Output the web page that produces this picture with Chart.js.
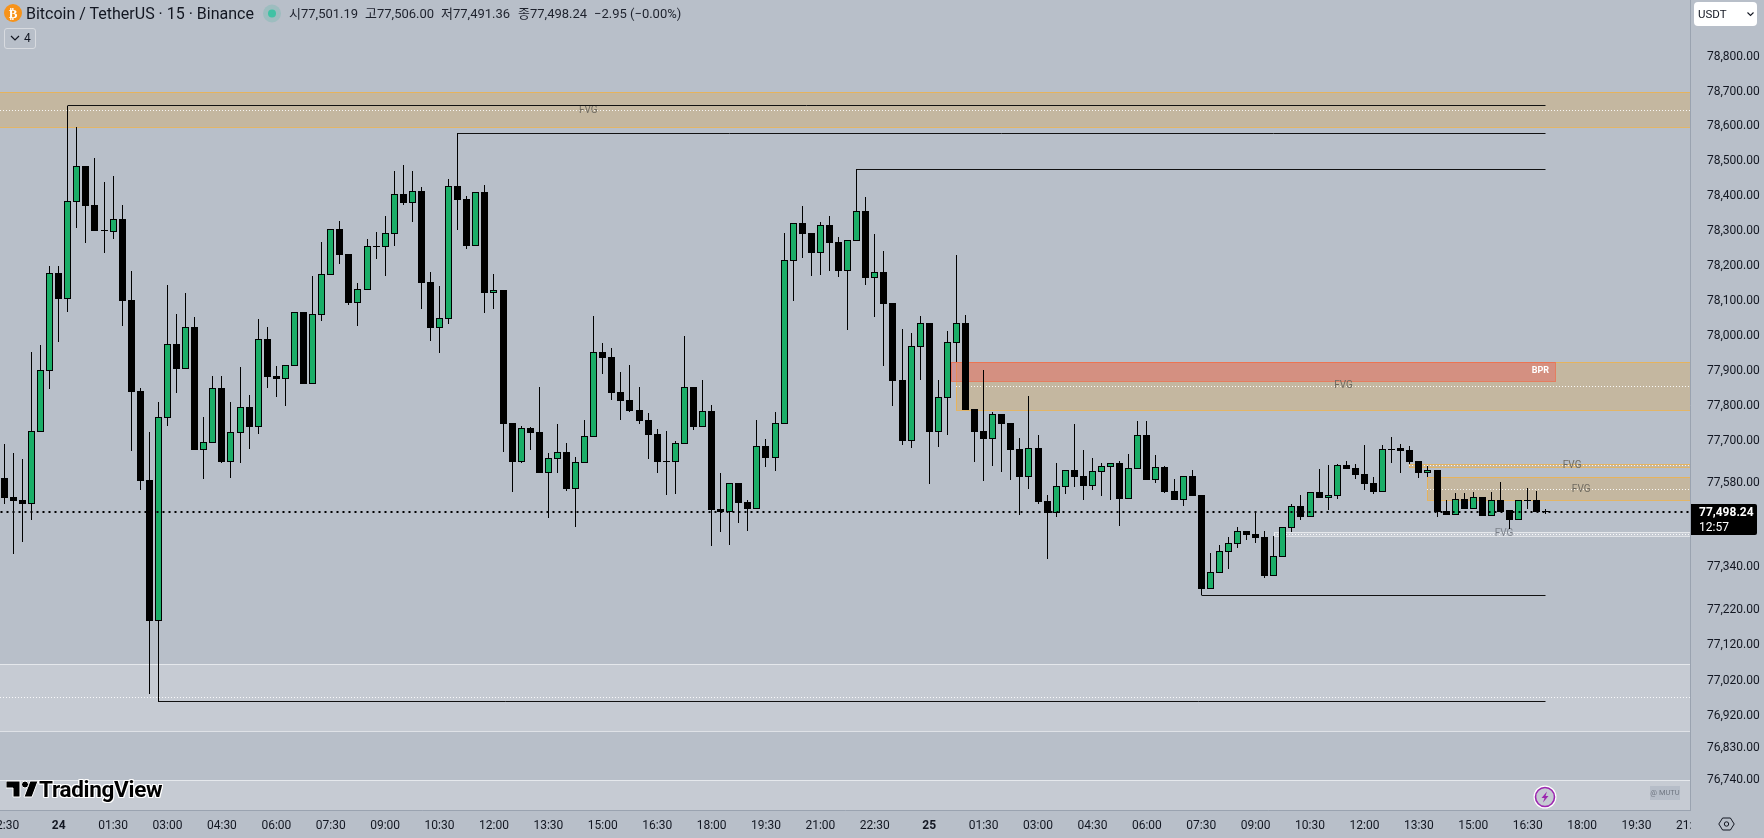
<!DOCTYPE html>
<html lang="ko">
<head>
  <meta charset="UTF-8" />
  <title>Bitcoin / TetherUS 15m</title>
  <style>
html, body { margin: 0; padding: 0; }
body {
    width: 1764px;
    height: 838px;
    overflow: hidden;
    position: relative;
    background: #b8bfc9;
    font-family: Roboto, 'Noto Sans CJK KR', sans-serif;
    color: #131722;
}
canvas { position: absolute; left: 0; top: 0; }
.abs { position: absolute; white-space: nowrap; }
.ohlc { top: 5px; font-size: 13px; line-height: 18px; color: #1e222d; }
#title { left: 26px; top: 3px; font-size: 16px; line-height: 21px; color: #131722; }
#btn4 { left: 4px; top: 28px; width: 30px; height: 19px; border: 1px solid #d8dbe0; border-radius: 3px; font-size: 12px; line-height: 19px; }
#unit { left: 1694px; top: 2px; width: 63px; height: 24px; background: #fff; border-radius: 4px; font-size: 11.5px; line-height: 24px; }
#tag { left: 1691px; top: 504px; width: 66px; height: 31px; background: #000; color: #fff; border-radius: 0 2px 2px 0; font-size: 12px; }
#logo { left: 39px; top: 777px; font-size: 22.5px; line-height: 24px; font-weight: 700; color: #000; letter-spacing: -0.3px; text-shadow: 1px 0 #fff, -1px 0 #fff, 0 1px #fff, 0 -1px #fff, 1px 1px #fff, -1px -1px #fff, 1px -1px #fff, -1px 1px #fff; }
#badge { left: 1650px; top: 786px; width: 30px; height: 14px; background: #b6bdc8; color: #6f7681; font-size: 7.5px; line-height: 14px; text-align: center; }
#corner { left: 1691px; top: 811px; width: 73px; height: 27px; background: #b8bfc9; }
  </style>
</head>
<body>

  <canvas id="btcChart" width="1764" height="838"></canvas>

  <svg class="abs" style="left:3px;top:3px" width="20" height="20"><circle cx="10" cy="10" r="9" fill="#f7931a"/><text x="10" y="14.5" text-anchor="middle" font-size="13" font-weight="700" fill="#fff" font-family="DejaVu Sans">₿</text></svg>
  <div class="abs" id="title">Bitcoin / TetherUS · 15 · Binance</div>
  <svg class="abs" style="left:262px;top:4px" width="20" height="20"><circle cx="10" cy="9.5" r="9" fill="#9dbdbf"/><circle cx="10" cy="9.5" r="4" fill="#3fc2a4"/></svg>
  <div class="abs ohlc" style="left:289px">시77,501.19</div>
  <div class="abs ohlc" style="left:365px">고77,506.00</div>
  <div class="abs ohlc" style="left:441px">저77,491.36</div>
  <div class="abs ohlc" style="left:518px">종77,498.24</div>
  <div class="abs ohlc" style="left:594px">−2.95 (−0.00%)</div>
  <div class="abs" id="btn4"><svg style="position:absolute;left:5px;top:6px" width="10" height="7"><path d="M1 1l4 4 4-4" fill="none" stroke="#131722" stroke-width="1.2"/></svg><span style="position:absolute;left:19px">4</span></div>

  <div class="abs" id="unit"><span style="position:absolute;left:4px">USDT</span><svg style="position:absolute;left:53px;top:10px" width="7" height="5"><path d="M.5 .5l3 3 3-3" fill="none" stroke="#131722" stroke-width="1.1"/></svg></div>

  <div class="abs" id="tag"><span style="position:absolute;left:8px;top:0;line-height:16px;font-weight:700">77,498.24</span><span style="position:absolute;left:8px;top:15px;line-height:16px">12:57</span></div>

  <svg class="abs" style="left:6px;top:780px" width="32" height="18"><path d="M0 1h14v16h-7V8H0z M24 1h8l-6 16h-8z" fill="#000" stroke="#fff" stroke-width="1"/><circle cx="19" cy="4.5" r="3.5" fill="#000" stroke="#fff"/></svg>
  <div class="abs" id="logo">TradingView</div>

  <svg class="abs" style="left:1533px;top:785px" width="24" height="24"><circle cx="12" cy="12" r="11.5" fill="#fff"/><circle cx="12" cy="12" r="9.5" fill="#c5cad2" stroke="#9c27b0" stroke-width="1.6"/><path d="M14 6.5l-5.5 6.5h3l-1.5 4.5 5.5-6.5h-3z" fill="#9c27b0"/></svg>
  <div class="abs" id="badge">@ MUTU</div>

  <div class="abs" id="corner"><svg style="position:absolute;left:27px;top:6px" width="17" height="14"><path d="M.8 7l3.8-6h7.8l3.8 6-3.8 6H4.6z" fill="none" stroke="#131722" stroke-width="1"/><circle cx="8.5" cy="7" r="2.2" fill="none" stroke="#131722" stroke-width="1"/></svg></div>

  <script src="https://cdn.jsdelivr.net/npm/chart.js"></script>

  <script>
    // 15m candles, first one is 22:30 on the 23rd
    const opens = [
      77594, 77540, 77532, 77521, 77725, 77899, 78179, 78105, 78383, 78486,
      78374, 78303, 78297, 78334, 78102, 77842, 77588, 77189, 77765, 77976,
      77905, 78025, 77674, 77694, 77851, 77640, 77722, 77796, 77739, 77991,
      77885, 77876, 77914, 78068, 77862, 78059, 78173, 78305, 78234, 78093,
      78130, 78257, 78254, 78291, 78406, 78380, 78414, 78153, 78022, 78048,
      78429, 78391, 78257, 78411, 78122, 78130, 77751, 77640, 77736, 77725,
      77608, 77648, 77668, 77563, 77637, 77711, 77953, 77939, 77839, 77816,
      77788, 77759, 77719, 77642, 77640, 77691, 77854, 77739, 77785, 77506,
      77498, 77580, 77526, 77506, 77685, 77651, 77748, 78214, 78323, 78294,
      78237, 78317, 78268, 78185, 78271, 78357, 78165, 78182, 78093, 77873,
      77699, 77968, 78036, 77725, 77822, 77979, 78036, 77790, 77728, 77705,
      77776, 77751, 77677, 77597, 77680, 77529, 77495, 77569, 77617, 77600,
      77571, 77611, 77625, 77637, 77534, 77620, 77716, 77588, 77625, 77557,
      77532, 77600, 77546, 77280, 77325, 77385, 77407, 77444, 77436, 77427,
      77317, 77370, 77453, 77515, 77484, 77554, 77537, 77543, 77631, 77622,
      77605, 77580, 77554, 77677, 77680, 77674, 77642, 77608, 77617, 77501,
      77489, 77534, 77506, 77540, 77487, 77532, 77504, 77475, 77532, 77532,
      77501.19
    ];
    const highs = [
      77691, 77665, 77648, 77953, 77973, 78199, 78199, 78660, 78598, 78486,
      78509, 78440, 78457, 78374, 78185, 77851, 77725, 77810, 78145, 78062,
      78122, 78053, 77768, 77885, 77885, 77810, 77911, 77831, 78048, 78025,
      77914, 77916, 78068, 78068, 78171, 78268, 78305, 78328, 78234, 78150,
      78277, 78297, 78343, 78472, 78489, 78472, 78426, 78182, 78142, 78449,
      78580, 78400, 78411, 78431, 78176, 78130, 77751, 77742, 77739, 77854,
      77665, 77748, 77694, 77654, 77759, 78056, 77979, 77965, 77896, 77916,
      77854, 77779, 77733, 77728, 77699, 77999, 77854, 77873, 77802, 77608,
      77580, 77580, 77532, 77759, 77705, 77782, 78294, 78323, 78371, 78294,
      78325, 78343, 78283, 78274, 78477, 78397, 78291, 78242, 78093, 78019,
      78008, 78056, 78036, 77873, 78013, 78231, 78059, 77790, 77902, 77782,
      77776, 77751, 77708, 77828, 77716, 77546, 77637, 77617, 77748, 77674,
      77651, 77637, 77637, 77642, 77662, 77756, 77756, 77659, 77628, 77591,
      77600, 77617, 77546, 77382, 77404, 77427, 77455, 77444, 77501, 77444,
      77430, 77455, 77521, 77546, 77554, 77620, 77631, 77634, 77642, 77634,
      77688, 77597, 77688, 77711, 77691, 77685, 77642, 77628, 77617, 77532,
      77551, 77551, 77554, 77540, 77554, 77583, 77504, 77532, 77566, 77557,
      77506
    ];
    const lows = [
      77521, 77379, 77413, 77475, 77725, 77848, 77982, 78068, 78308, 78265,
      78300, 78237, 78277, 78028, 77671, 77560, 76983, 76960, 77742, 77836,
      77905, 77674, 77591, 77694, 77637, 77594, 77637, 77677, 77719, 77851,
      77825, 77799, 77914, 77862, 77862, 78042, 78173, 78205, 78088, 78028,
      78130, 78219, 78171, 78257, 78374, 78325, 78076, 77985, 77951, 78033,
      78303, 78248, 78257, 78065, 78076, 77668, 77554, 77637, 77674, 77608,
      77481, 77608, 77557, 77455, 77637, 77711, 77891, 77816, 77759, 77782,
      77748, 77648, 77608, 77546, 77548, 77691, 77731, 77739, 77402, 77441,
      77404, 77467, 77444, 77506, 77625, 77614, 77748, 78099, 78222, 78171,
      78173, 78185, 78168, 78016, 78271, 78145, 78053, 77914, 77799, 77688,
      77680, 77873, 77577, 77682, 77716, 77925, 77788, 77640, 77585, 77628,
      77611, 77588, 77489, 77563, 77521, 77365, 77484, 77549, 77569, 77532,
      77560, 77543, 77532, 77458, 77534, 77620, 77588, 77580, 77551, 77532,
      77515, 77543, 77261, 77280, 77325, 77336, 77396, 77419, 77410, 77311,
      77317, 77370, 77441, 77475, 77484, 77537, 77504, 77534, 77620, 77591,
      77560, 77549, 77554, 77637, 77608, 77634, 77594, 77597, 77484, 77489,
      77489, 77506, 77506, 77487, 77487, 77498, 77450, 77475, 77506, 77498,
      77491.36
    ];
    const closes = [
      77537, 77529, 77521, 77728, 77902, 78179, 78105, 78386, 78486, 78371,
      78300, 78300, 78334, 78099, 77839, 77585, 77189, 77768, 77976, 77905,
      78025, 77674, 77696, 77851, 77640, 77725, 77796, 77739, 77991, 77882,
      77876, 77916, 78068, 77862, 78062, 78176, 78305, 78231, 78093, 78133,
      78257, 78254, 78294, 78406, 78380, 78414, 78150, 78022, 78051, 78429,
      78388, 78257, 78411, 78122, 78130, 77748, 77640, 77736, 77722, 77608,
      77651, 77668, 77563, 77640, 77714, 77953, 77936, 77836, 77813, 77785,
      77756, 77716, 77640, 77640, 77694, 77854, 77739, 77785, 77504, 77498,
      77580, 77523, 77506, 77685, 77651, 77751, 78216, 78323, 78291, 78237,
      78317, 78265, 78185, 78274, 78357, 78165, 78182, 78090, 77871, 77699,
      77971, 78036, 77725, 77825, 77982, 78036, 77788, 77725, 77705, 77776,
      77748, 77674, 77597, 77680, 77526, 77495, 77571, 77617, 77597, 77571,
      77614, 77628, 77637, 77534, 77622, 77716, 77588, 77625, 77554, 77532,
      77600, 77543, 77280, 77328, 77387, 77410, 77444, 77433, 77424, 77317,
      77373, 77455, 77515, 77484, 77554, 77537, 77546, 77631, 77620, 77603,
      77577, 77554, 77677, 77674, 77671, 77640, 77608, 77617, 77498, 77489,
      77534, 77506, 77540, 77487, 77532, 77498, 77475, 77532, 77530, 77498,
      77498.24
    ];

    // price axis, the chart is on a log scale so the labels are not evenly spaced
    const priceTicks = [78800, 78700, 78600, 78500, 78400, 78300, 78200, 78100, 78000, 77900, 77800, 77700, 77580, 77340, 77220, 77120, 77020, 76920, 76830, 76740];
    const priceMax = 78964.8;
    const priceMin = 76655.7;
    const lastPrice = 77498.24;

    // time axis, one label every 6 candles starting at candle 0
    const timeLabels = [
      '22:30', '24', '01:30', '03:00', '04:30', '06:00', '07:30', '09:00', '10:30', '12:00', '13:30',
      '15:00', '16:30', '18:00', '19:30', '21:00', '22:30', '25', '01:30', '03:00', '04:30', '06:00',
      '07:30', '09:00', '10:30', '12:00', '13:30', '15:00', '16:30', '18:00', '19:30', '21:00'
    ];
    const indexMin = -0.474;
    const indexMax = 185.9;

    // swing high/low lines: candle they start from, price
    const levelStarts = [7, 50, 94, 132, 17];
    const levelPrices = [78660, 78580, 78477, 77261, 76960];
    const levelEnd = 170;

    // zones (FVG / BPR boxes)
    const zoneKinds = ['fvg', 'fvg', 'fvg', 'pale', 'pale', 'pale', 'bpr'];
    const zoneStarts = [indexMin, 105, 156.9, 140, indexMin, indexMin, 104.4];
    const zoneEnds = [indexMax, indexMax, indexMax, indexMax, indexMax, indexMax, 171];
    const zoneTops = [78698, 77925, 77597, 77440, 77067, 76741, 77925];
    const zoneBottoms = [78597, 77788, 77530, 77429, 76879, 76600, 77871.5];
    const zoneMids = [78647, 77856, 77562, 77435, 76973, null, null];

    const thinZoneStart = 154.9;
    const thinZoneTop = 77635;
    const thinZoneBottom = 77626;
    const thinZoneMid = 77630;

    // text on the zones: candle position, price
    const zoneLabels = ['FVG', 'FVG', 'FVG', 'FVG', 'FVG', 'BPR'];
    const zoneLabelIndex = [64.4, 147.7, 172.9, 173.9, 165.4, 169.4];
    const zoneLabelPrice = [78647, 77856, 77630, 77562, 77435, 77898];
    const zoneLabelColors = ['#6f6a5f', '#6f6a5f', '#6f6a5f', '#6f6a5f', '#7d828b', '#ffffff'];

    const UP = '#1bae68';
    const DOWN = '#000000';

    const candleIndex = opens.map((o, i) => i);

    const zonePlugin = {
      id: 'zones',
      beforeDatasetsDraw(chart) {
        const { ctx, chartArea, scales } = chart;
        const x = scales.x, y = scales.y;
        ctx.save();
        ctx.beginPath();
        ctx.rect(chartArea.left, chartArea.top, chartArea.width, chartArea.height);
        ctx.clip();

        function box(kind, a, b, top, bottom, mid) {
          // boxes that run off the pane get no side border
          const left = a === indexMin ? -3 : Math.round(x.getPixelForValue(a));
          const right = b === indexMax ? chartArea.right + 3 : Math.round(x.getPixelForValue(b));
          const t = Math.round(y.getPixelForValue(top));
          const h = Math.round(y.getPixelForValue(bottom)) - t;
          if (kind === 'fvg') {
            ctx.fillStyle = 'rgba(245,156,0,0.2)';
            ctx.strokeStyle = 'rgba(240,178,70,0.75)';
          } else if (kind === 'bpr') {
            ctx.fillStyle = 'rgba(236,84,80,0.4)';
            ctx.strokeStyle = 'rgba(236,110,80,0.8)';
          } else {
            ctx.fillStyle = 'rgba(255,255,255,0.2)';
            ctx.strokeStyle = 'rgba(255,255,255,0.55)';
          }
          ctx.lineWidth = 1;
          ctx.setLineDash([]);
          ctx.fillRect(left, t, right - left, h);
          ctx.strokeRect(left + 0.5, t + 0.5, right - left, h);
          if (mid !== null) {
            const m = Math.round(y.getPixelForValue(mid)) + 0.5;
            ctx.strokeStyle = 'rgba(255,255,255,0.9)';
            ctx.setLineDash([1, 2]);
            ctx.beginPath();
            ctx.moveTo(left, m);
            ctx.lineTo(right, m);
            ctx.stroke();
          }
        }

        zoneKinds.forEach((kind, i) => {
          box(kind, zoneStarts[i], zoneEnds[i], zoneTops[i], zoneBottoms[i], zoneMids[i]);
        });
        box('fvg', thinZoneStart, indexMax, thinZoneTop, thinZoneBottom, thinZoneMid);

        ctx.setLineDash([]);
        ctx.textAlign = 'center';
        ctx.textBaseline = 'middle';
        zoneLabels.forEach((txt, i) => {
          ctx.font = (txt === 'BPR' ? '700 9px' : '10px') + ' Roboto';
          ctx.fillStyle = zoneLabelColors[i];
          ctx.fillText(txt, x.getPixelForValue(zoneLabelIndex[i]), y.getPixelForValue(zoneLabelPrice[i]));
        });
        ctx.restore();
      }
    };

    // put bars and lines on whole pixels so 1px wicks stay sharp
    const snapPlugin = {
      id: 'snap',
      afterDatasetsUpdate(chart) {
        chart.data.datasets.forEach((ds, i) => {
          const meta = chart.getDatasetMeta(i);
          meta.data.forEach(el => {
            el.x = Math.round(el.x - 0.5) + 0.5;
            if (ds.type === 'line') {
              el.y = ds.borderWidth === 2 ? Math.round(el.y) : Math.round(el.y - 0.5) + 0.5;
            } else {
              el.y = Math.round(el.y);
              el.base = Math.round(el.base);
              if (el.y === el.base) el.base = el.y + 1;
            }
          });
        });
      }
    };

    const ctx = document.getElementById('btcChart').getContext('2d');

    new Chart(ctx, {
      type: 'bar',
      data: {
        datasets: [
          {
            type: 'line',
            data: [{ x: indexMin, y: lastPrice }, { x: indexMax, y: lastPrice }],
            borderColor: '#000',
            borderWidth: 2,
            borderDash: [2, 4],
            pointRadius: 0,
            order: 0
          },
          ...levelStarts.map((start, i) => ({
            type: 'line',
            data: [{ x: start, y: levelPrices[i] }, { x: levelEnd, y: levelPrices[i] }],
            borderColor: '#111',
            borderWidth: 1,
            pointRadius: 0,
            order: 1
          })),
          {
            type: 'bar',
            data: candleIndex.map(i => ({ x: i, y: [opens[i], closes[i]] })),
            backgroundColor: c => closes[c.dataIndex] >= opens[c.dataIndex] ? UP : DOWN,
            borderColor: '#000',
            borderWidth: 1,
            borderSkipped: false,
            inflateAmount: 0,
            barThickness: 7,
            grouped: false,
            order: 2
          },
          {
            type: 'bar',
            data: candleIndex.map(i => ({ x: i, y: [lows[i], highs[i]] })),
            backgroundColor: '#000',
            borderWidth: 0,
            inflateAmount: 0,
            barThickness: 1,
            grouped: false,
            order: 3
          }
        ]
      },
      options: {
        responsive: false,
        animation: false,
        events: [],
        layout: { padding: 0 },
        plugins: { legend: { display: false }, tooltip: { enabled: false } },
        scales: {
          x: {
            type: 'linear',
            offset: false,
            min: indexMin,
            max: indexMax,
            grid: { display: false },
            border: { display: true, color: '#9aa3b0', width: 1 },
            afterBuildTicks: s => { s.ticks = timeLabels.map((t, i) => ({ value: i * 6 })); },
            afterFit: s => { s.height = 28; s.paddingLeft = 0; s.paddingRight = 0; },
            ticks: {
              autoSkip: false,
              maxRotation: 0,
              padding: 1,
              color: '#131722',
              font: c => ({ family: 'Roboto', size: 12, weight: /:/.test(timeLabels[c.index]) ? '400' : '700' }),
              callback: (v, i) => timeLabels[i]
            }
          },
          y: {
            type: 'logarithmic',
            position: 'right',
            bounds: 'data',
            min: priceMin,
            max: priceMax,
            grid: { display: false },
            border: { display: true, color: '#9aa3b0', width: 1 },
            afterBuildTicks: s => { s.ticks = priceTicks.map(v => ({ value: v })); },
            afterFit: s => { s.width = 74; s.paddingTop = 0; s.paddingBottom = 0; },
            ticks: {
              autoSkip: false,
              padding: 9,
              color: '#131722',
              font: { family: 'Roboto', size: 12 },
              callback: v => v.toLocaleString('en-US', { minimumFractionDigits: 2, maximumFractionDigits: 2 })
            }
          }
        }
      },
      plugins: [zonePlugin, snapPlugin]
    });
  </script>
</body>
</html>
